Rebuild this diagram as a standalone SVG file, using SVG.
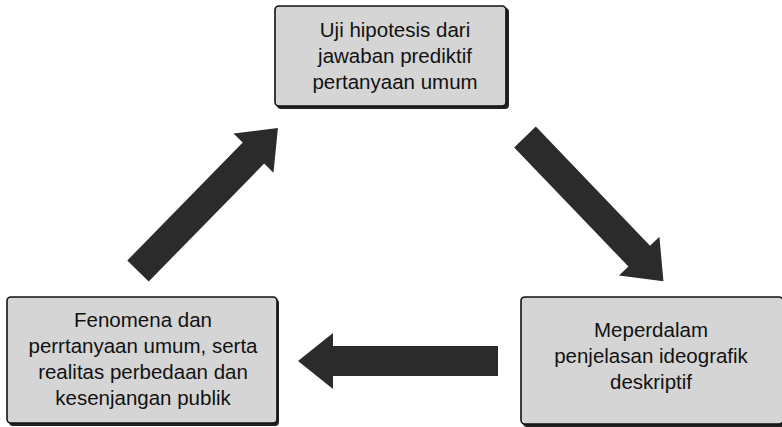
<svg xmlns="http://www.w3.org/2000/svg" width="782" height="427" viewBox="0 0 782 427">
  <style>
    .box { fill: #d5d5d5; stroke: #111; stroke-width: 1.6; }
    .shadow { fill: #222; }
    .label { font-family: "Liberation Sans", Arial, sans-serif; font-size: 20.5px; fill: #111; text-anchor: middle; }
    .arrow { fill: #2b2b2b; }
  </style>
  <defs>
    <!-- block arrow, tail at origin, pointing along +x, length 200 -->
    <path id="blockArrow" d="M0,-15 H165 V-28 L200,0 L165,28 V15 H0 Z"/>
  </defs>

  <rect width="782" height="427" fill="#ffffff"/>

  <g id="connectors" class="arrow">
    <use href="#blockArrow" transform="translate(525,137) rotate(46.2)"/>
    <use href="#blockArrow" transform="translate(498,361) rotate(180)"/>
    <use href="#blockArrow" transform="translate(138,271) rotate(-45.6)"/>
  </g>

  <g id="node-hipotesis">
    <rect class="shadow" x="277" y="8" width="232" height="101" rx="4"/>
    <rect class="box" x="275" y="6" width="231" height="100" rx="4"/>
    <text class="label" x="395" y="37">Uji hipotesis dari</text>
    <text class="label" x="395" y="63">jawaban prediktif</text>
    <text class="label" x="395" y="89">pertanyaan umum</text>
  </g>

  <g id="node-ideografik">
    <rect class="shadow" x="523" y="299" width="262" height="128" rx="4"/>
    <rect class="box" x="521" y="297" width="262" height="127" rx="4"/>
    <text class="label" x="651" y="337">Meperdalam</text>
    <text class="label" x="651" y="363">penjelasan ideografik</text>
    <text class="label" x="651" y="389">deskriptif</text>
  </g>

  <g id="node-fenomena">
    <rect class="shadow" x="9" y="299" width="270" height="127" rx="4"/>
    <rect class="box" x="7" y="297" width="270" height="126" rx="4"/>
    <text class="label" x="143" y="327">Fenomena dan</text>
    <text class="label" x="143" y="353">perrtanyaan umum, serta</text>
    <text class="label" x="143" y="379">realitas perbedaan dan</text>
    <text class="label" x="143" y="405">kesenjangan publik</text>
  </g>
</svg>
